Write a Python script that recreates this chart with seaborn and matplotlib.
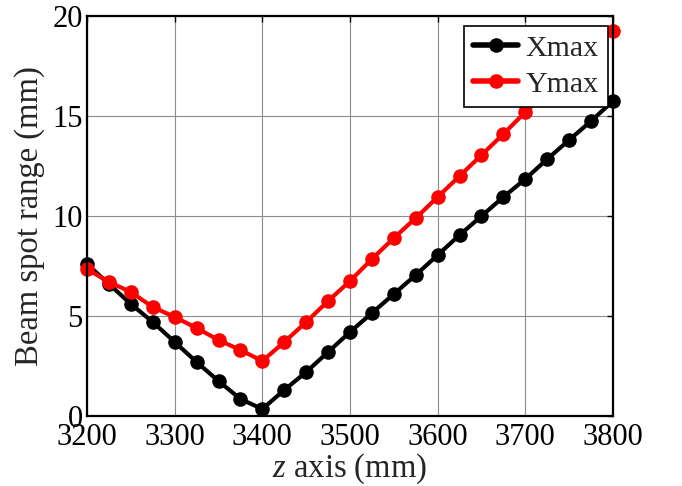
import matplotlib
matplotlib.use("Agg")
import matplotlib.pyplot as plt
import numpy as np
import pandas as pd
import seaborn as sns

# z positions along the beam line (mm)
z_mm = [3200, 3225, 3250, 3275, 3300, 3325, 3350, 3375, 3400, 3425, 3450, 3475, 3500,
        3525, 3550, 3575, 3600, 3625, 3650, 3675, 3700, 3725, 3750, 3775, 3800]

# beam spot half-range in x and y (mm)
xmax_mm = [7.6, 6.6, 5.6, 4.7, 3.7, 2.7, 1.75, 0.85, 0.35, 1.3, 2.2, 3.2, 4.2,
           5.15, 6.1, 7.05, 8.05, 9.05, 10.0, 10.95, 11.85, 12.85, 13.8, 14.75, 15.75]
ymax_mm = [7.35, 6.7, 6.2, 5.45, 4.95, 4.4, 3.8, 3.3, 2.75, 3.7, 4.7, 5.75, 6.75,
           7.85, 8.9, 9.9, 10.95, 12.0, 13.05, 14.1, 15.2, 16.2, 17.25, 18.25, 19.25]

series_names = ["Xmax", "Ymax"]
series_colors = ["#000000", "#ff0000"]

df = pd.DataFrame({
    "z": z_mm * 2,
    "value": xmax_mm + ymax_mm,
    "series": [series_names[0]] * len(z_mm) + [series_names[1]] * len(z_mm),
})

sns.set_style("whitegrid")
plt.rcParams["font.family"] = ["Liberation Serif", "DejaVu Serif"]
plt.rcParams["mathtext.fontset"] = "custom"
plt.rcParams["mathtext.it"] = "Liberation Serif:italic"
plt.rcParams["mathtext.rm"] = "Liberation Serif"

fig = plt.figure(figsize=(6.82, 4.86), dpi=100)
ax = fig.add_axes([0.1276, 0.144, 0.7712, 0.823])

sns.lineplot(data=df, x="z", y="value", hue="series", palette=series_colors,
             marker="o", markersize=10.5, markeredgewidth=0, linewidth=3,
             ax=ax, clip_on=False, legend=True)

ax.set_xlim(3200, 3800)
ax.set_ylim(0, 20)
ax.set_xticks(np.arange(3200, 3801, 100))
ax.set_yticks(np.arange(0, 21, 5))

ax.grid(True, color="#8c8c8c", linewidth=0.8, linestyle="-")
ax.set_axisbelow(True)
for side in ["left", "right", "top", "bottom"]:
    ax.spines[side].set_visible(True)
    ax.spines[side].set_color("black")
    ax.spines[side].set_linewidth(1.6)

ax.tick_params(axis="both", which="major", direction="in", length=4, width=1,
               top=True, right=True, labelsize=22, colors="black", pad=3)
ax.tick_params(axis="x", pad=5)

ax.set_xlabel(r"$\mathit{z}$ axis (mm)", fontsize=23.5, labelpad=0)
ax.set_ylabel("Beam spot range (mm)", fontsize=23.5, labelpad=5)

handles, labels = ax.get_legend_handles_labels()
leg = ax.legend(handles=handles, labels=labels, loc="upper right",
                bbox_to_anchor=(0.99, 0.975), fontsize=21.5, frameon=True,
                fancybox=False, edgecolor="black", framealpha=1,
                handlelength=1.5, handletextpad=0.25, borderpad=0.3,
                labelspacing=0.3, borderaxespad=0)
leg.get_frame().set_linewidth(1.2)
for line in leg.get_lines():
    line.set_linewidth(4)
    line.set_markersize(10.5)

fig.savefig("out.png", dpi=100)
